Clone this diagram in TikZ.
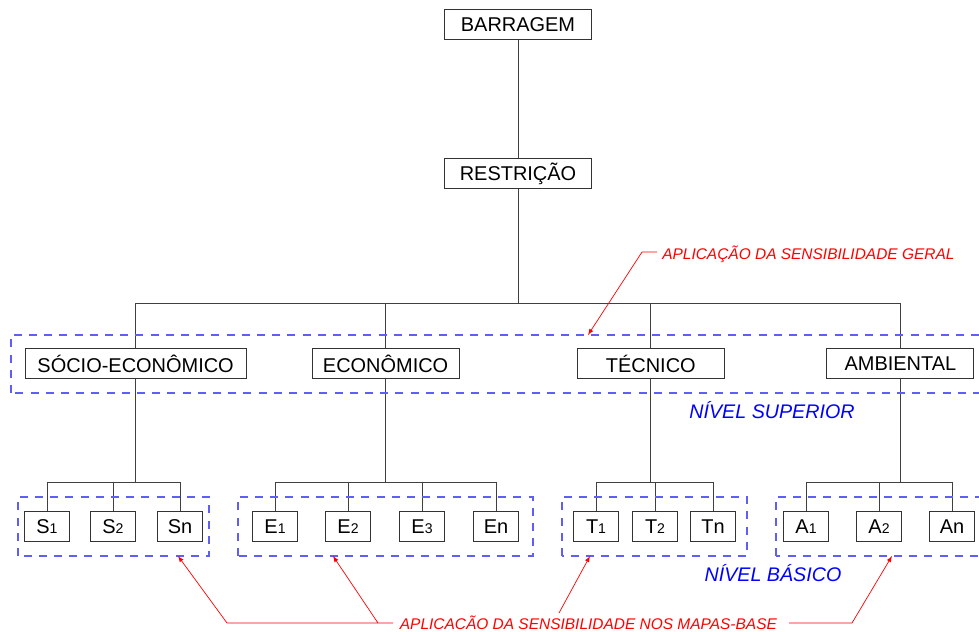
\documentclass[tikz,border=0pt]{standalone}
\usepackage{fontspec}
\setmainfont{Liberation Sans}
\usetikzlibrary{calc}
\definecolor{groupblue}{RGB}{95,95,245}
\definecolor{notered}{RGB}{255,0,0}
\newcommand{\smallnum}[1]{{\fontsize{10}{10}\selectfont #1}}
\tikzset{
	bigbox/.style={draw=black!80, line width=0.7pt, minimum width=3.675cm, minimum height=0.75cm, inner sep=0pt},
	smallbox/.style={draw=black!80, line width=0.7pt, minimum width=1.125cm, minimum height=0.73cm, inner sep=0pt},
	tree/.style={draw=black!75, line width=0.7pt},
	group/.style={draw=groupblue, line width=0.8pt, dash pattern=on 0.2cm off 0.18cm},
	levelname/.style={text=blue, font=\fontsize{14}{16}\selectfont\itshape},
	note/.style={text=notered, font=\fontsize{11}{12}\selectfont\itshape, inner sep=0pt},
	noteline/.style={draw=notered, line width=0.5pt}
}

\begin{document}
\begin{tikzpicture}[font=\fontsize{14.2}{16}\selectfont]
		%%%%% START %%%%%
		\useasboundingbox (0, 0) rectangle (24.475, 15.8);
		
		% top of the tree
		\node[bigbox] (barragem) at (12.95, 15.175) {BARRAGEM};
		\node[bigbox] (restricao) at (12.95, 11.45) {RESTRIÇÃO};
		\coordinate (bus) at (12.95, 8.2);
		
		% upper level
		\node[bigbox, minimum width=5.525cm] (socio) at (3.39, 6.7) {SÓCIO-ECONÔMICO};
		\node[bigbox] (economico) at (9.64, 6.7) {ECONÔMICO};
		\node[bigbox] (tecnico) at (16.27, 6.7) {TÉCNICO};
		\node[bigbox] (ambiental) at (22.51, 6.7) {AMBIENTAL};
		
		\draw[tree] (barragem) -- (restricao);
		\draw[tree] (restricao) -- (bus);
		\draw[tree] (bus) -| (socio);
		\draw[tree] (bus) -| (economico);
		\draw[tree] (bus) -| (tecnico);
		\draw[tree] (bus) -| (ambiental);
		
		% basic level
		\coordinate (sbus) at (3.39, 3.75);
		\coordinate (ebus) at (9.64, 3.75);
		\coordinate (tbus) at (16.27, 3.75);
		\coordinate (abus) at (22.51, 3.75);
		\draw[tree] (socio) -- (sbus);
		\draw[tree] (economico) -- (ebus);
		\draw[tree] (tecnico) -- (tbus);
		\draw[tree] (ambiental) -- (abus);
		
		\foreach \name/\x/\txt/\up in {s1/1.175/S\smallnum{1}/sbus, s2/2.825/S\smallnum{2}/sbus, sn/4.5/Sn/sbus,
				e1/6.875/E\smallnum{1}/ebus, e2/8.7/E\smallnum{2}/ebus, e3/10.55/E\smallnum{3}/ebus, en/12.4/En/ebus,
				t1/14.9/T\smallnum{1}/tbus, t2/16.375/T\smallnum{2}/tbus, tn/17.825/Tn/tbus,
				a1/20.15/A\smallnum{1}/abus, a2/21.975/A\smallnum{2}/abus, an/23.8/An/abus}{
			\node[smallbox] (\name) at (\x, 2.64) {\txt};
			\draw[tree] (\up) -| (\name);
		}
		
		% dashed groups
		\draw[group] (0.275, 5.975) rectangle (25.2, 7.425);
		\draw[group] (0.45, 1.9) rectangle (5.225, 3.375);
		\draw[group] (5.95, 1.9) rectangle (13.325, 3.375);
		\draw[group] (14.05, 1.9) rectangle (18.675, 3.375);
		\draw[group] (19.4, 1.9) rectangle (25.2, 3.375);
		
		\node[levelname] (superior) at (19.3, 5.55) {NÍVEL SUPERIOR};
		\node[levelname] (basico) at (19.325, 1.475) {NÍVEL BÁSICO};
		
		% red notes
		\node[note, anchor=west] (geral) at (16.55, 9.45) {APLICAÇÃO DA SENSIBILIDADE GERAL};
		\coordinate (geralknee) at (16.05, 9.5);
		\coordinate (geraltip) at (14.7, 7.425);
		\draw[noteline] (geral.west) ++(-0.12, 0.05) -- (geralknee);
		\draw[noteline, -latex] (geralknee) -- (geraltip);
		
		\node[note, anchor=base] (mapas) at (14.71, 0.07) {APLICACÃO DA SENSIBILIDADE NOS MAPAS-BASE};
		\coordinate (lknee) at (5.675, 0.225);
		\coordinate (lend) at (9.825, 0.225);
		\coordinate (eknee) at (9.45, 0.225);
		\coordinate (tfoot) at (13.975, 0.475);
		\coordinate (rknee) at (21.3, 0.225);
		\coordinate (rend) at (19.725, 0.225);
		\draw[noteline, -latex] (lend) -- (lknee) -- (4.45, 1.9);
		\draw[noteline, -latex] (eknee) -- (8.325, 1.9);
		\draw[noteline, -latex] (tfoot) -- (14.75, 1.9);
		\draw[noteline, -latex] (rend) -- (rknee) -- (22.3, 1.9);
		%%%%% END %%%%%
	\end{tikzpicture}
\end{document}
